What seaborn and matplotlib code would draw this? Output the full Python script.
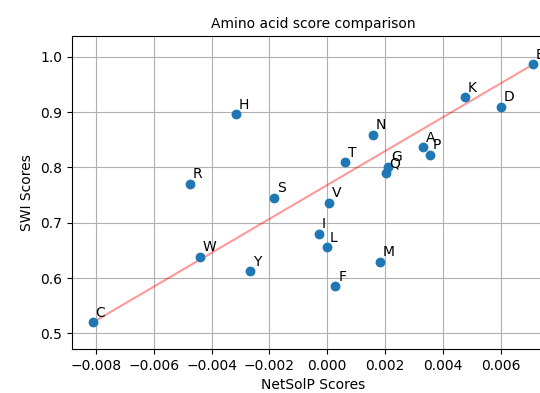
import matplotlib
matplotlib.use("Agg")
import matplotlib.pyplot as plt
import seaborn as sns
import pandas as pd

amino_acids = ["C", "W", "Y", "R", "H", "S", "V", "I", "L", "F", "M", "T", "N",
               "G", "Q", "A", "P", "K", "D", "E"]
netsolp_scores = [-0.00811, -0.0044, -0.00267, -0.00475, -0.00317, -0.00185, 0.00007,
                  -0.00028, -0.00002, 0.00028, 0.00182, 0.00062, 0.00157,
                  0.0021, 0.00203, 0.0033, 0.00355, 0.00477, 0.0060, 0.00712]
swi_scores = [0.520, 0.639, 0.612, 0.770, 0.896, 0.745, 0.736,
              0.680, 0.656, 0.585, 0.630, 0.809, 0.859,
              0.801, 0.790, 0.836, 0.823, 0.927, 0.909, 0.986]

df = pd.DataFrame({"aa": amino_acids, "netsolp": netsolp_scores, "swi": swi_scores})

# trend line from the lowest to the highest pair
trend = pd.DataFrame({"netsolp": [min(netsolp_scores), max(netsolp_scores)],
                      "swi": [min(swi_scores), max(swi_scores)]})

fig = plt.figure(figsize=(5.4, 3.93), dpi=100)
ax = fig.add_axes([0.1328, 0.112, 0.895, 0.796])

sns.scatterplot(data=df, x="netsolp", y="swi", s=50, linewidth=0, color="#1f77b4", ax=ax, zorder=3)
sns.lineplot(data=trend, x="netsolp", y="swi", color="red", alpha=0.4, lw=1.5, ax=ax)

for aa, x, y in zip(amino_acids, netsolp_scores, swi_scores):
    ax.text(x + 0.0001, y + 0.01, aa, fontsize=10)

ax.set_xlim(-0.00884, 0.00788)
ax.set_ylim(0.472, 1.037)
ax.grid(True)
ax.set_axisbelow(True)
ax.set_xlabel("NetSolP Scores")
ax.set_ylabel("SWI Scores")
ax.set_title("Amino acid score comparison", fontsize=10)

fig.savefig("out.png", dpi=100)
